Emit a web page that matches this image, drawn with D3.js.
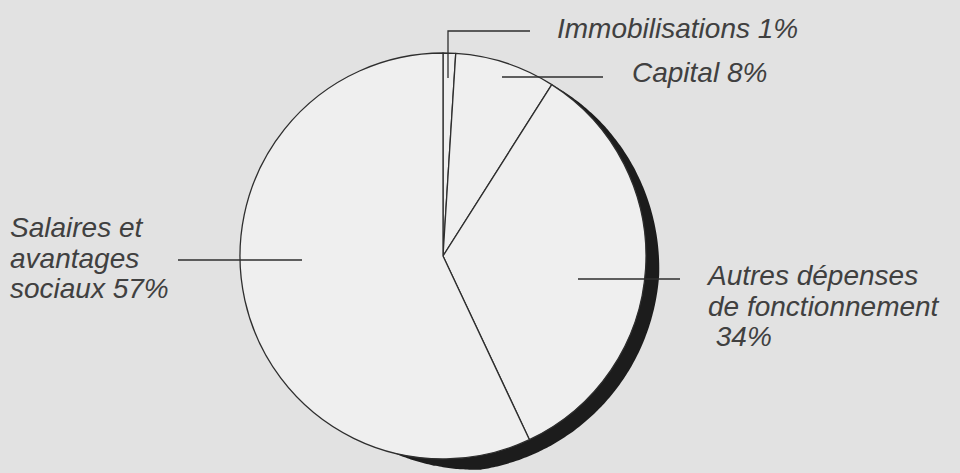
<!DOCTYPE html>
<html><head><meta charset="utf-8">
<script src="https://cdn.jsdelivr.net/npm/d3@7"></script>
<style>
html,body{margin:0;padding:0;background:#e2e2e2;}
svg{display:block;}
text{font-family:"Liberation Sans",Arial,sans-serif;font-style:italic;fill:#404040;}
</style></head>
<body>
<script>
// Data
const categories = ["Immobilisations", "Capital", "Autres dépenses de fonctionnement", "Salaires et avantages sociaux"];
const values = [1, 8, 34, 57];
const labelLines = [
  ["Immobilisations 1%"],
  ["Capital 8%"],
  ["Autres dépenses", "de fonctionnement", " 34%"],
  ["Salaires et", "avantages", "sociaux 57%"]
];

const W = 960, H = 473;
const cx = 443, cy = 256, R = 203;

const svg = d3.select("body").append("svg").attr("width", W).attr("height", H);
svg.append("rect").attr("width", W).attr("height", H).attr("fill", "#e2e2e2");

const g = svg.append("g").attr("transform", `translate(${cx},${cy})`);

// Shadow crescent (style)
const deg = Math.PI / 180;
const shadowAngles = d3.range(30, 196, 1);
function thick(a) {
  if (a < 32) return 0;
  if (a < 95) return 14 * (a - 32) / 63;
  if (a < 170) return 14 + 1.5 * Math.sin((a - 95) / 75 * Math.PI);
  if (a < 194) return 14 * (194 - a) / 24;
  return 0;
}
const shadow = d3.areaRadial()
  .angle(a => a * deg)
  .innerRadius(R - 3)
  .outerRadius(a => R + thick(a))
  .curve(d3.curveCatmullRom);
g.append("path").attr("d", shadow(shadowAngles)).attr("fill", "#1c1c1c");

// Pie
const pie = d3.pie().sort(null).value(d => d);
const arcs = pie(values);
const arc = d3.arc().innerRadius(0).outerRadius(R);
g.selectAll("path.slice").data(arcs).join("path")
  .attr("class", "slice")
  .attr("d", arc)
  .attr("fill", "#efefef")
  .attr("stroke", "#2e2e2e")
  .attr("stroke-width", 1.3)
  .attr("stroke-linejoin", "round");

// Leader lines
const leaders = [
  [[448, 78], [448, 31], [530, 31]],
  [[502, 77], [603, 77]],
  [[578, 279], [680, 279]],
  [[178, 260], [302, 260]]
];
const line = d3.line();
svg.selectAll("path.leader").data(leaders).join("path")
  .attr("class", "leader")
  .attr("d", line)
  .attr("fill", "none")
  .attr("stroke", "#2e2e2e")
  .attr("stroke-width", 1.3);

// Labels
const labelPos = [
  [557, 38], [632, 82], [708, 285], [10, 237]
];
const lh = 30.5;
labelLines.forEach((lines, i) => {
  const t = svg.append("text")
    .attr("x", labelPos[i][0]).attr("y", labelPos[i][1])
    .attr("font-size", 28)
    .attr("xml:space", "preserve");
  lines.forEach((s, j) => {
    t.append("tspan").attr("x", labelPos[i][0]).attr("dy", j === 0 ? 0 : lh).text(s);
  });
});
</script>
</body></html>
